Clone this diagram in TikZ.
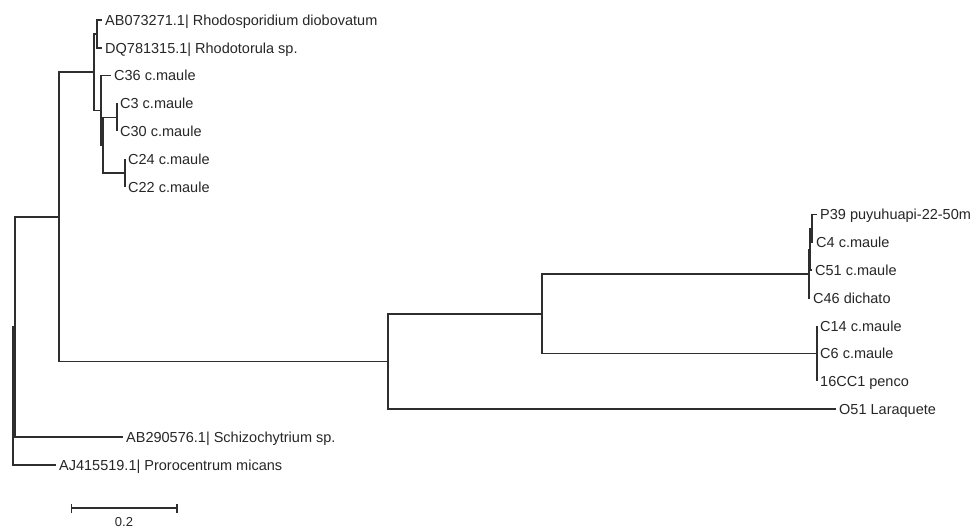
\documentclass[tikz,border=0pt]{standalone}
\usepackage{fontspec}
\setmainfont{Liberation Sans}
\usepackage{xcolor}
\usetikzlibrary{arrows.meta}
\definecolor{branch}{HTML}{2E2E2E}

\begin{document}
\begin{tikzpicture}[x=1pt, y=-1pt,
    taxon/.style={anchor=west, inner sep=3pt, text height=10.4pt, text depth=0pt,
      font=\fontsize{14.5}{16}\selectfont, text=black!85},
    clade/.style={draw=branch, line width=1.6pt}]
  \useasboundingbox (0,0) rectangle (980,528);
  \foreach \n/\x/\y/\t in {t1/102/20.0/AB073271.1| Rhodosporidium diobovatum,
      t2/102/47.8/DQ781315.1| Rhodotorula sp., t3/111/75.6/C36 c.maule,
      t4/117/103.4/C3 c.maule, t5/117/131.2/C30 c.maule, t6/125/159.0/C24 c.maule,
      t7/125/186.8/C22 c.maule, t8/817/214.6/P39 puyuhuapi-22-50m,
      t9/813/242.4/C4 c.maule, t10/812/270.2/C51 c.maule, t11/810/298.0/C46 dichato,
      t12/817/325.8/C14 c.maule, t13/817/353.6/C6 c.maule, t14/817/381.4/16CC1 penco,
      t15/836/409.2/O51 Laraquete, t16/123/437.0/AB290576.1| Schizochytrium sp.,
      t17/56/464.8/AJ415519.1| Prorocentrum micans} {
    \node[taxon] (\n) at (\x,\y) {\t};
  }
  \foreach \n/\x/\y in {root/13/395.9, nB/15/326.9, nC/59/216.8, nD/94/72.1,
      nRh/97/33.9, nE/101/110.4, nF/103/145.1, nG/117/117.3, nH/125/172.9,
      nBig/388/361.4, nI/542/313.7, nJ/809/273.7, nL/810/249.4, nK/812/228.5,
      nM/817/353.6} {
    \coordinate (\n) at (\x,\y);
  }
  \foreach \p/\c in {root/nB, root/t17, nB/nC, nB/t16, nC/nD, nC/nBig, nD/nRh, nD/nE,
      nRh/t1, nRh/t2, nE/t3, nE/nF, nF/nG, nF/nH, nG/t4, nG/t5, nH/t6, nH/t7,
      nBig/nI, nBig/t15, nI/nJ, nI/nM, nJ/nL, nJ/t11, nL/nK, nL/t10, nK/t8, nK/t9,
      nM/t12, nM/t13, nM/t14} {
    \draw[clade] (\p) |- (\c);
  }
  \coordinate (sbL) at (70.5,508);
  \coordinate (sbR) at (177.5,508);
  \draw[clade, {Bar[width=9pt]}-{Bar[width=9pt]}] (sbL) -- (sbR);
  \node[font=\fontsize{13}{14}\selectfont, text=black!85, inner sep=0pt,
    text height=9.3pt, text depth=0pt] (sbval) at (124,522) {0.2};
\end{tikzpicture}
\end{document}
